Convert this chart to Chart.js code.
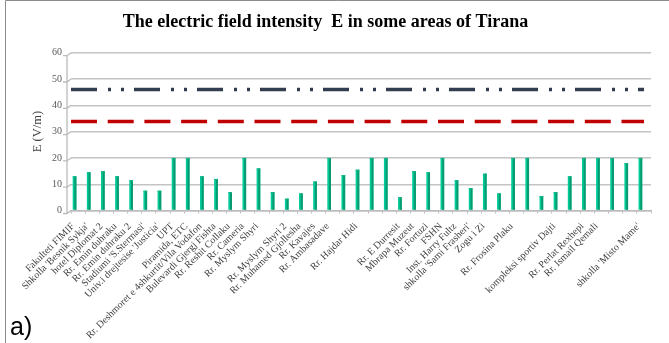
<!DOCTYPE html>
<html>
<head>
<meta charset="utf-8">
<script src="https://cdn.jsdelivr.net/npm/chart.js@4.4.1/dist/chart.umd.min.js"></script>
<style>
  html, body { margin: 0; padding: 0; background: #ffffff; }
  #wrap { position: relative; width: 669px; height: 343px; }
  canvas { display: block; }
</style>
</head>
<body>
<div id="wrap"><canvas id="efield" width="669" height="343"></canvas></div>
<script>
// Measurement sites (blank entries are sites without a printed name)
const sites = [
  "Fakulteti FIMIF", "Shkolla 'Besnik Sykja'", "hotel Diplomat 2", "Rr. Emin duhraku",
  "Rr. Emin duhraku 2", "Stadiumi 'S.Stermasi'", "Univ.i drejtesise 'Justicia'", "UPT",
  "Piramida, ETC", "Rr. Deshmoret e 4shkurtit/Vila Vodafon", "Bulevardi Gjergj Fishta",
  "Rr. Reshit Collaku", "Rr. Cameria", "Rr. Myslym Shyri", "", "Rr. Myslym Shyri 2",
  "Rr. Muhamed Gjollesha", "Rr. Kavajes", "Rr. Ambasadave", "", "Rr. Hajdar Hidi", "", "",
  "Rr. E Durresit", "Mbrapa Muzeut", "Rr. Fortuzi", "FSHN", "Inst. Harry Fultz",
  "shkolla 'Sami Frasheri'", "Zogu i Zi", "", "Rr. Frosina Plaku", "", "",
  "kompleksi sportiv Dajti", "", "Rr. Perlat Rexhepi", "Rr. Ismail Qemali", "", "",
  "shkolla 'Misto Mame'"
];

// Measured electric field intensity at each site, V/m
const fieldValues = [
  13, 14.5, 15, 13, 11.5, 7.5, 7.5, 20, 20, 13, 12, 7, 20, 16, 7, 4.5, 6.5, 11, 20, 13.5,
  15.5, 20, 20, 5, 15, 14.5, 20, 11.5, 8.5, 14, 6.5, 20, 20, 5.5, 7, 13, 20, 20, 20, 18, 20
];

// Reference levels drawn across the whole plot, V/m
const upperLevel = [46, 46];
const lowerLevel = [33.8, 33.8];
const levelSpan = [0, 0.988];

const yTicks = [0, 10, 20, 30, 40, 50, 60];

const SERIF = "'Liberation Serif', 'Times New Roman', serif";

// Thin 3D wall edge on the value axis, shaded columns and the frame around the figure
const wallPlugin = {
  id: 'wall',
  beforeDraw(chart) {
    const ctx = chart.ctx;
    ctx.save();
    ctx.strokeStyle = '#8c8c8c';
    ctx.lineWidth = 1;
    ctx.beginPath();
    ctx.moveTo(5.5, 343);
    ctx.lineTo(5.5, 0.5);
    ctx.lineTo(669, 0.5);
    ctx.stroke();
    ctx.restore();
  },
  beforeDatasetsDraw(chart) {
    const ctx = chart.ctx;
    const y = chart.scales.y;
    const left = chart.chartArea.left;
    ctx.save();
    ctx.strokeStyle = '#bbbbbb';
    ctx.lineWidth = 1.3;
    ctx.beginPath();
    ctx.moveTo(left - 4, y.getPixelForValue(60) + 3);
    ctx.lineTo(left - 4, y.getPixelForValue(0) + 3);
    yTicks.forEach(v => {
      const py = y.getPixelForValue(v);
      ctx.moveTo(left - 8, py + 3);
      ctx.lineTo(left - 4, py + 3);
      ctx.lineTo(left, py);
    });
    ctx.stroke();
    ctx.restore();
  },
  afterDatasetsDraw(chart) {
    const ctx = chart.ctx;
    const meta = chart.getDatasetMeta(0);
    ctx.save();
    meta.data.forEach(bar => {
      const p = bar.getProps(['x', 'y', 'base', 'width'], true);
      ctx.fillStyle = '#0a9a70';
      ctx.fillRect(p.x + p.width / 2 - 2, p.y, 2, p.base - p.y);
      ctx.fillStyle = '#13b487';
      ctx.fillRect(p.x - p.width / 2, p.y, p.width, 1);
    });
    ctx.restore();
  },
  afterDraw(chart) {
    const ctx = chart.ctx;
    ctx.save();
    ctx.fillStyle = '#000000';
    ctx.font = "25px 'Liberation Sans', Arial, sans-serif";
    ctx.textBaseline = 'alphabetic';
    ctx.fillText('a)', 10, 335);
    ctx.restore();
  }
};

new Chart(document.getElementById('efield'), {
  data: {
    labels: sites,
    datasets: [
      {
        type: 'bar',
        label: 'E',
        data: fieldValues,
        backgroundColor: '#00cc99',
        borderWidth: 0,
        categoryPercentage: 1,
        barPercentage: 0.52,
        order: 2
      },
      {
        type: 'line',
        label: 'upper level',
        xAxisID: 'span',
        data: levelSpan.map((x, i) => ({ x, y: upperLevel[i] })),
        borderColor: '#323e4f',
        borderWidth: 3.5,
        borderDash: [26, 11, 3, 10, 3, 10],
        borderCapStyle: 'butt',
        pointRadius: 0,
        fill: false,
        order: 1
      },
      {
        type: 'line',
        label: 'lower level',
        xAxisID: 'span',
        data: levelSpan.map((x, i) => ({ x, y: lowerLevel[i] })),
        borderColor: '#c00000',
        borderWidth: 3.5,
        borderDash: [26, 10.7],
        borderCapStyle: 'butt',
        pointRadius: 0,
        fill: false,
        order: 1
      }
    ]
  },
  options: {
    responsive: false,
    animation: false,
    devicePixelRatio: 1,
    layout: { padding: { top: 0, left: 0, right: 18, bottom: 0 } },
    plugins: {
      legend: { display: false },
      tooltip: { enabled: false },
      title: {
        display: true,
        text: 'The electric field intensity  E in some areas of Tirana',
        color: '#000000',
        font: { family: SERIF, size: 18, weight: 'bold', lineHeight: 1.2 },
        padding: { top: 12, bottom: 19.1 }
      }
    },
    scales: {
      x: {
        type: 'category',
        offset: true,
        grid: { drawOnChartArea: false, drawTicks: true, tickLength: 3, color: '#bbbbbb', offset: true },
        border: { display: true, color: '#bbbbbb', width: 1.5 },
        ticks: {
          autoSkip: false,
          maxRotation: 45,
          minRotation: 45,
          padding: 7,
          labelOffset: -5,
          color: '#404040',
          font: { family: SERIF, size: 10 }
        },
        afterFit(scale) { scale.height = 132.5; }
      },
      span: {
        type: 'linear',
        display: false,
        min: 0,
        max: 1
      },
      y: {
        min: 0,
        max: 60,
        afterBuildTicks(scale) { scale.ticks = yTicks.map(v => ({ value: v })); },
        grid: { color: '#c4c4c4', lineWidth: 1.4, drawTicks: false },
        border: { display: false },
        ticks: {
          padding: 9,
          color: '#595959',
          font: { family: SERIF, size: 10 }
        },
        title: {
          display: true,
          text: 'E (V/m)',
          color: '#404040',
          font: { family: SERIF, size: 12.5 },
          padding: { top: 30, bottom: 0 }
        },
        afterFit(scale) { scale.width = 71; }
      }
    }
  },
  plugins: [wallPlugin]
});
</script>
</body>
</html>
